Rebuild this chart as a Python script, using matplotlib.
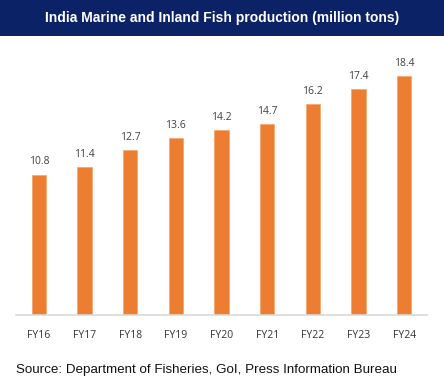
import matplotlib
matplotlib.use("Agg")
import matplotlib.pyplot as plt
from matplotlib.patches import Rectangle

categories = ["FY16", "FY17", "FY18", "FY19", "FY20", "FY21", "FY22", "FY23", "FY24"]
values = [10.8, 11.4, 12.7, 13.6, 14.2, 14.7, 16.2, 17.4, 18.4]
title = "India Marine and Inland Fish production (million tons)"
source = "Source: Department of Fisheries, GoI, Press Information Bureau"

W, H = 444, 388
fig = plt.figure(figsize=(W / 100, H / 100), dpi=100)
fig.patch.set_facecolor("white")

# banner
fig.add_artist(Rectangle((0, 1 - 36 / H), 1, 36 / H, transform=fig.transFigure,
                         facecolor="#0C2266", edgecolor="none", zorder=0))
fig.text(0.5, 1 - 18 / H, title, ha="center", va="center", color="white",
         fontsize=10, fontweight="bold", family="Liberation Sans")

left, right, bottom_px, top_px = 16, 427, 315, 55
ax = fig.add_axes([left / W, (H - bottom_px) / H, (right - left) / W, (bottom_px - top_px) / H])
x = list(range(len(categories)))
bars = ax.bar(x, values, width=0.31, color="#ED7D31", edgecolor="#F4A468", linewidth=0.5)
ax.set_xlim(-0.5, len(categories) - 0.5)
ax.set_ylim(0, 20)
for xi, v in zip(x, values):
    ax.text(xi, v + 0.55, f"{v:.1f}", ha="center", va="bottom", fontsize=7.5,
            color="#404040", family="Open Sans")
ax.set_xticks(x)
ax.set_xticklabels(categories, fontsize=7.5, color="#333333", family="Open Sans")
ax.tick_params(axis="x", length=0, pad=11)
ax.set_yticks([])
for s in ["top", "right", "left"]:
    ax.spines[s].set_visible(False)
ax.spines["bottom"].set_color("#D9D9D9")
ax.spines["bottom"].set_linewidth(1.2)

fig.text(16 / W, 1 - 370 / H, source, ha="left", va="center", fontsize=9.6,
         color="#111111", family="Liberation Sans")

fig.savefig("out.png", dpi=100)
